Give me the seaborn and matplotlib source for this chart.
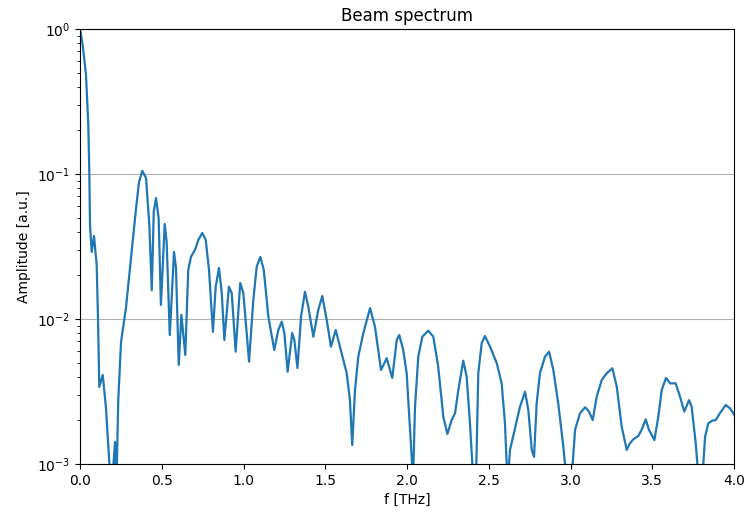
import matplotlib
matplotlib.use("Agg")
import matplotlib.pyplot as plt
import seaborn as sns
import numpy as np
import pandas as pd

# Frequency [THz] and amplitude [a.u.]
freq = [
    0.000, 0.0165, 0.0367, 0.0508, 0.0569, 0.0612, 0.0716, 0.0856, 0.102, 0.110,
    0.118, 0.139, 0.159, 0.179, 0.196, 0.214, 0.223, 0.234, 0.251, 0.281,
    0.312, 0.343, 0.361, 0.381, 0.404, 0.424, 0.439, 0.451, 0.465, 0.481,
    0.495, 0.518, 0.530, 0.549, 0.575, 0.587, 0.604, 0.620, 0.644, 0.662,
    0.679, 0.703, 0.724, 0.748, 0.769, 0.789, 0.813, 0.830, 0.850, 0.867,
    0.883, 0.911, 0.928, 0.952, 0.980, 0.999, 1.034, 1.060, 1.081, 1.103,
    1.124, 1.152, 1.188, 1.213, 1.234, 1.250, 1.270, 1.298, 1.311, 1.330,
    1.352, 1.376, 1.396, 1.427, 1.457, 1.482, 1.509, 1.535, 1.564, 1.590,
    1.631, 1.651, 1.665, 1.682, 1.702, 1.733, 1.774, 1.804, 1.841, 1.876,
    1.910, 1.937, 1.953, 1.977, 1.998, 2.015, 2.037, 2.049, 2.069, 2.094,
    2.130, 2.161, 2.191, 2.222, 2.247, 2.273, 2.294, 2.314, 2.344, 2.365,
    2.385, 2.407, 2.422, 2.436, 2.457, 2.477, 2.508, 2.549, 2.579, 2.599,
    2.615, 2.630, 2.661, 2.691, 2.722, 2.742, 2.763, 2.777, 2.793, 2.813,
    2.844, 2.869, 2.895, 2.925, 2.956, 2.979, 3.006, 3.028, 3.058, 3.089,
    3.113, 3.136, 3.160, 3.191, 3.221, 3.256, 3.283, 3.313, 3.344, 3.364,
    3.384, 3.415, 3.435, 3.460, 3.480, 3.513, 3.537, 3.558, 3.584, 3.609,
    3.643, 3.670, 3.696, 3.725, 3.741, 3.766, 3.786, 3.804, 3.823, 3.843,
    3.867, 3.888, 3.914, 3.949, 3.976, 4.002,
]
amplitude = [
    1.0, 0.776, 0.482, 0.218, 0.103, 0.0445, 0.029, 0.0374, 0.0236, 0.0102,
    0.0034, 0.00411, 0.00243, 0.00103, 0.000716, 0.00142, 0.000716, 0.00276, 0.00694, 0.0119,
    0.0264, 0.0583, 0.0881, 0.105, 0.0938, 0.0445, 0.0158, 0.0547, 0.0683, 0.0497,
    0.0125, 0.0452, 0.034, 0.00776, 0.029, 0.0225, 0.00482, 0.0107, 0.00565, 0.0218,
    0.0269, 0.0299, 0.0351, 0.0392, 0.0351, 0.0218, 0.00817, 0.0167, 0.0225, 0.0151,
    0.00716, 0.0167, 0.0151, 0.00595, 0.0177, 0.0151, 0.00508, 0.0135, 0.0230, 0.0268,
    0.0218, 0.0104, 0.00611, 0.0084, 0.00958, 0.0080, 0.00433, 0.0080, 0.00716, 0.00459,
    0.0104, 0.0154, 0.0122, 0.00755, 0.0115, 0.0144, 0.00984, 0.00644, 0.0084, 0.00644,
    0.00424, 0.00276, 0.00135, 0.00324, 0.0055, 0.0080, 0.0119, 0.00885, 0.00445, 0.00536,
    0.00392, 0.00716, 0.00776, 0.00611, 0.00422, 0.00201, 0.000776, 0.00248, 0.0055, 0.00755,
    0.0083, 0.00755, 0.00469, 0.00212, 0.00161, 0.00201, 0.00224, 0.00324, 0.00516, 0.0040,
    0.00192, 0.000716, 0.00078, 0.00424, 0.00683, 0.00763, 0.00644, 0.00495, 0.0036, 0.00192,
    0.000716, 0.00125, 0.00177, 0.00248, 0.00315, 0.00236, 0.00125, 0.00112, 0.00262, 0.00422,
    0.0055, 0.00595, 0.00445, 0.00262, 0.00132, 0.000716, 0.000776, 0.00172, 0.00224, 0.00246,
    0.0023, 0.00201, 0.00291, 0.00379, 0.00422, 0.00457, 0.00341, 0.00181, 0.00125, 0.00139,
    0.00148, 0.00156, 0.00172, 0.00203, 0.00172, 0.00146, 0.00212, 0.00324, 0.00392, 0.0036,
    0.0036, 0.00291, 0.0023, 0.00276, 0.00248, 0.00139, 0.000716, 0.000716, 0.00154, 0.00191,
    0.00199, 0.00201, 0.00224, 0.00255, 0.00242, 0.00218,
]

df = pd.DataFrame({"f": freq, "A": amplitude})

fig = plt.figure(figsize=(7.44, 5.14), dpi=100)
ax = fig.add_axes([80 / 744, 50 / 514, 654 / 744, 435 / 514])

sns.lineplot(data=df, x="f", y="A", ax=ax, color="#1f77b4", linewidth=1.6,
             sort=False, estimator=None)

ax.set_yscale("log")
ax.set_xlim(0, 4)
ax.set_ylim(1e-3, 1)
ax.set_xticks([0.0, 0.5, 1.0, 1.5, 2.0, 2.5, 3.0, 3.5, 4.0])
ax.set_xticklabels(["0.0", "0.5", "1.0", "1.5", "2.0", "2.5", "3.0", "3.5", "4.0"])
ax.yaxis.grid(True, which="major", color="#b0b0b0", linewidth=0.8)
ax.set_axisbelow(True)
ax.set_xlabel("f [THz]")
ax.set_ylabel("Amplitude [a.u.]")
ax.set_title("Beam spectrum")

fig.savefig("out.png", dpi=100)
